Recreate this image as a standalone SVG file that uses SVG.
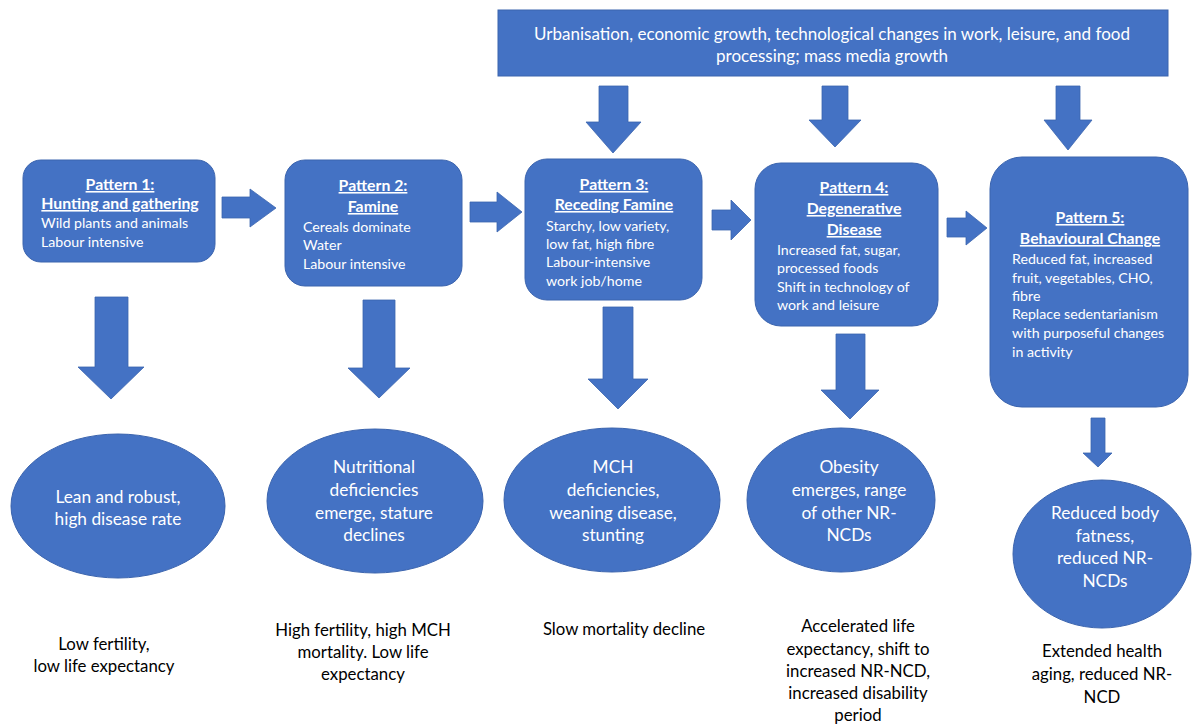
<svg xmlns="http://www.w3.org/2000/svg" width="1192" height="725" viewBox="0 0 1192 725">
<style>
.shape{fill:#4472C4;stroke:#3B64AE;stroke-width:1}
.arr{fill:#4472C4;stroke:#3B64AE;stroke-width:0.8}
text{font-family:Lato,"Open Sans","Liberation Sans",sans-serif;fill:#ffffff}
.t{font-size:15.8px;font-weight:bold;text-decoration:underline;text-anchor:middle}
.b{font-size:14.2px}
.e{font-size:17.3px;text-anchor:middle}
.top{font-size:17px;text-anchor:middle}
.bot{font-size:16.8px;text-anchor:middle;fill:#000000}
</style>
<rect width="1192" height="725" fill="#ffffff"/>
<g id="drivers">
<rect class="shape" x="498" y="10" width="670" height="66"/>
<text class="top" x="832" y="40">Urbanisation, economic growth, technological changes in work, leisure, and food</text>
<text class="top" x="832" y="62">processing; mass media growth</text>
</g>
<g id="pattern1">
<rect class="shape" x="23" y="160" width="192" height="102" rx="18"/>
<text class="t" x="120" y="190">Pattern 1:</text>
<text class="t" x="120" y="209">Hunting and gathering</text>
<text class="b" x="41" y="228">Wild plants and animals</text>
<text class="b" x="41" y="247">Labour intensive</text>
</g>
<g id="pattern2">
<rect class="shape" x="285" y="160" width="177" height="126" rx="20"/>
<text class="t" x="373" y="191">Pattern 2:</text>
<text class="t" x="373" y="212">Famine</text>
<text class="b" x="303" y="232">Cereals dominate</text>
<text class="b" x="303" y="250">Water</text>
<text class="b" x="303" y="269">Labour intensive</text>
</g>
<g id="pattern3">
<rect class="shape" x="525" y="159" width="177" height="141" rx="22"/>
<text class="t" x="614" y="190">Pattern 3:</text>
<text class="t" x="614" y="210">Receding Famine</text>
<text class="b" x="546" y="231">Starchy, low variety,</text>
<text class="b" x="546" y="249">low fat, high fibre</text>
<text class="b" x="546" y="267">Labour-intensive</text>
<text class="b" x="546" y="286">work job/home</text>
</g>
<g id="pattern4">
<rect class="shape" x="755" y="163" width="183" height="163" rx="26"/>
<text class="t" x="854" y="193">Pattern 4:</text>
<text class="t" x="854" y="214">Degenerative</text>
<text class="t" x="854" y="235">Disease</text>
<text class="b" x="777" y="255">Increased fat, sugar,</text>
<text class="b" x="777" y="273">processed foods</text>
<text class="b" x="777" y="292">Shift in technology of</text>
<text class="b" x="777" y="310">work and leisure</text>
</g>
<g id="pattern5">
<rect class="shape" x="990" y="157" width="198" height="250" rx="32"/>
<text class="t" x="1090" y="223">Pattern 5:</text>
<text class="t" x="1090" y="244">Behavioural Change</text>
<text class="b" x="1012" y="264">Reduced fat, increased</text>
<text class="b" x="1012" y="283">fruit, vegetables, CHO,</text>
<text class="b" x="1012" y="301">fibre</text>
<text class="b" x="1012" y="319">Replace sedentarianism</text>
<text class="b" x="1012" y="338">with purposeful changes</text>
<text class="b" x="1012" y="357">in activity</text>
</g>
<g id="outcome1">
<ellipse class="shape" cx="118" cy="506" rx="107" ry="72"/>
<text class="e" x="118" y="503">Lean and robust,</text>
<text class="e" x="118" y="525">high disease rate</text>
</g>
<g id="outcome2">
<ellipse class="shape" cx="375" cy="501" rx="108" ry="72"/>
<text class="e" x="374" y="473">Nutritional</text>
<text class="e" x="374" y="496">deficiencies</text>
<text class="e" x="374" y="519">emerge, stature</text>
<text class="e" x="374" y="541">declines</text>
</g>
<g id="outcome3">
<ellipse class="shape" cx="612" cy="500" rx="108" ry="72"/>
<text class="e" x="613" y="473">MCH</text>
<text class="e" x="613" y="496">deficiencies,</text>
<text class="e" x="613" y="519">weaning disease,</text>
<text class="e" x="613" y="541">stunting</text>
</g>
<g id="outcome4">
<ellipse class="shape" cx="841" cy="500" rx="94" ry="72"/>
<text class="e" x="849" y="473">Obesity</text>
<text class="e" x="849" y="496">emerges, range</text>
<text class="e" x="849" y="519">of other NR-</text>
<text class="e" x="849" y="541">NCDs</text>
</g>
<g id="outcome5">
<ellipse class="shape" cx="1102" cy="554" rx="89" ry="74"/>
<text class="e" x="1105" y="519">Reduced body</text>
<text class="e" x="1105" y="542">fatness,</text>
<text class="e" x="1105" y="564">reduced NR-</text>
<text class="e" x="1105" y="587">NCDs</text>
</g>
<g id="demography">
<text class="bot" x="104" y="650">Low fertility,</text>
<text class="bot" x="104" y="672">low life expectancy</text>
<text class="bot" x="363" y="636">High fertility, high MCH</text>
<text class="bot" x="363" y="658">mortality. Low life</text>
<text class="bot" x="363" y="680">expectancy</text>
<text class="bot" x="624" y="635">Slow mortality decline</text>
<text class="bot" x="858" y="632">Accelerated life</text>
<text class="bot" x="858" y="655">expectancy, shift to</text>
<text class="bot" x="858" y="677">increased NR-NCD,</text>
<text class="bot" x="858" y="699">increased disability</text>
<text class="bot" x="858" y="721">period</text>
<text class="bot" x="1102" y="657">Extended health</text>
<text class="bot" x="1102" y="680">aging, reduced NR-</text>
<text class="bot" x="1102" y="703">NCD</text>
</g>
<g id="connectors">
<polygon class="arr" points="222,197 250,197 250,189 276,208 250,227 250,218 222,218"/>
<polygon class="arr" points="470,202 497,202 497,192 522,212 497,232 497,222 470,222"/>
<polygon class="arr" points="712,210 731,210 731,200 751,220 731,240 731,230 712,230"/>
<polygon class="arr" points="947,218 966,218 966,211 987,228 966,245 966,237 947,237"/>
<polygon class="arr" points="599,86 628,86 628,122 641,122 613,153 586,122 599,122"/>
<polygon class="arr" points="822,86 848,86 848,120 861,120 835,147 809,120 822,120"/>
<polygon class="arr" points="1056,86 1080,86 1080,120 1092,120 1068,150 1044,120 1056,120"/>
<polygon class="arr" points="95,297 128,297 128,367 144,367 111,399 78,367 95,367"/>
<polygon class="arr" points="363,300 395,300 395,368 410,368 379,398 348,368 363,368"/>
<polygon class="arr" points="603,307 633,307 633,379 648,379 618,409 588,379 603,379"/>
<polygon class="arr" points="836,334 865,334 865,390 879,390 850,419 821,390 836,390"/>
<polygon class="arr" points="1091,418 1105,418 1105,453 1112,453 1098,467 1083,453 1091,453"/>
</g>
</svg>
